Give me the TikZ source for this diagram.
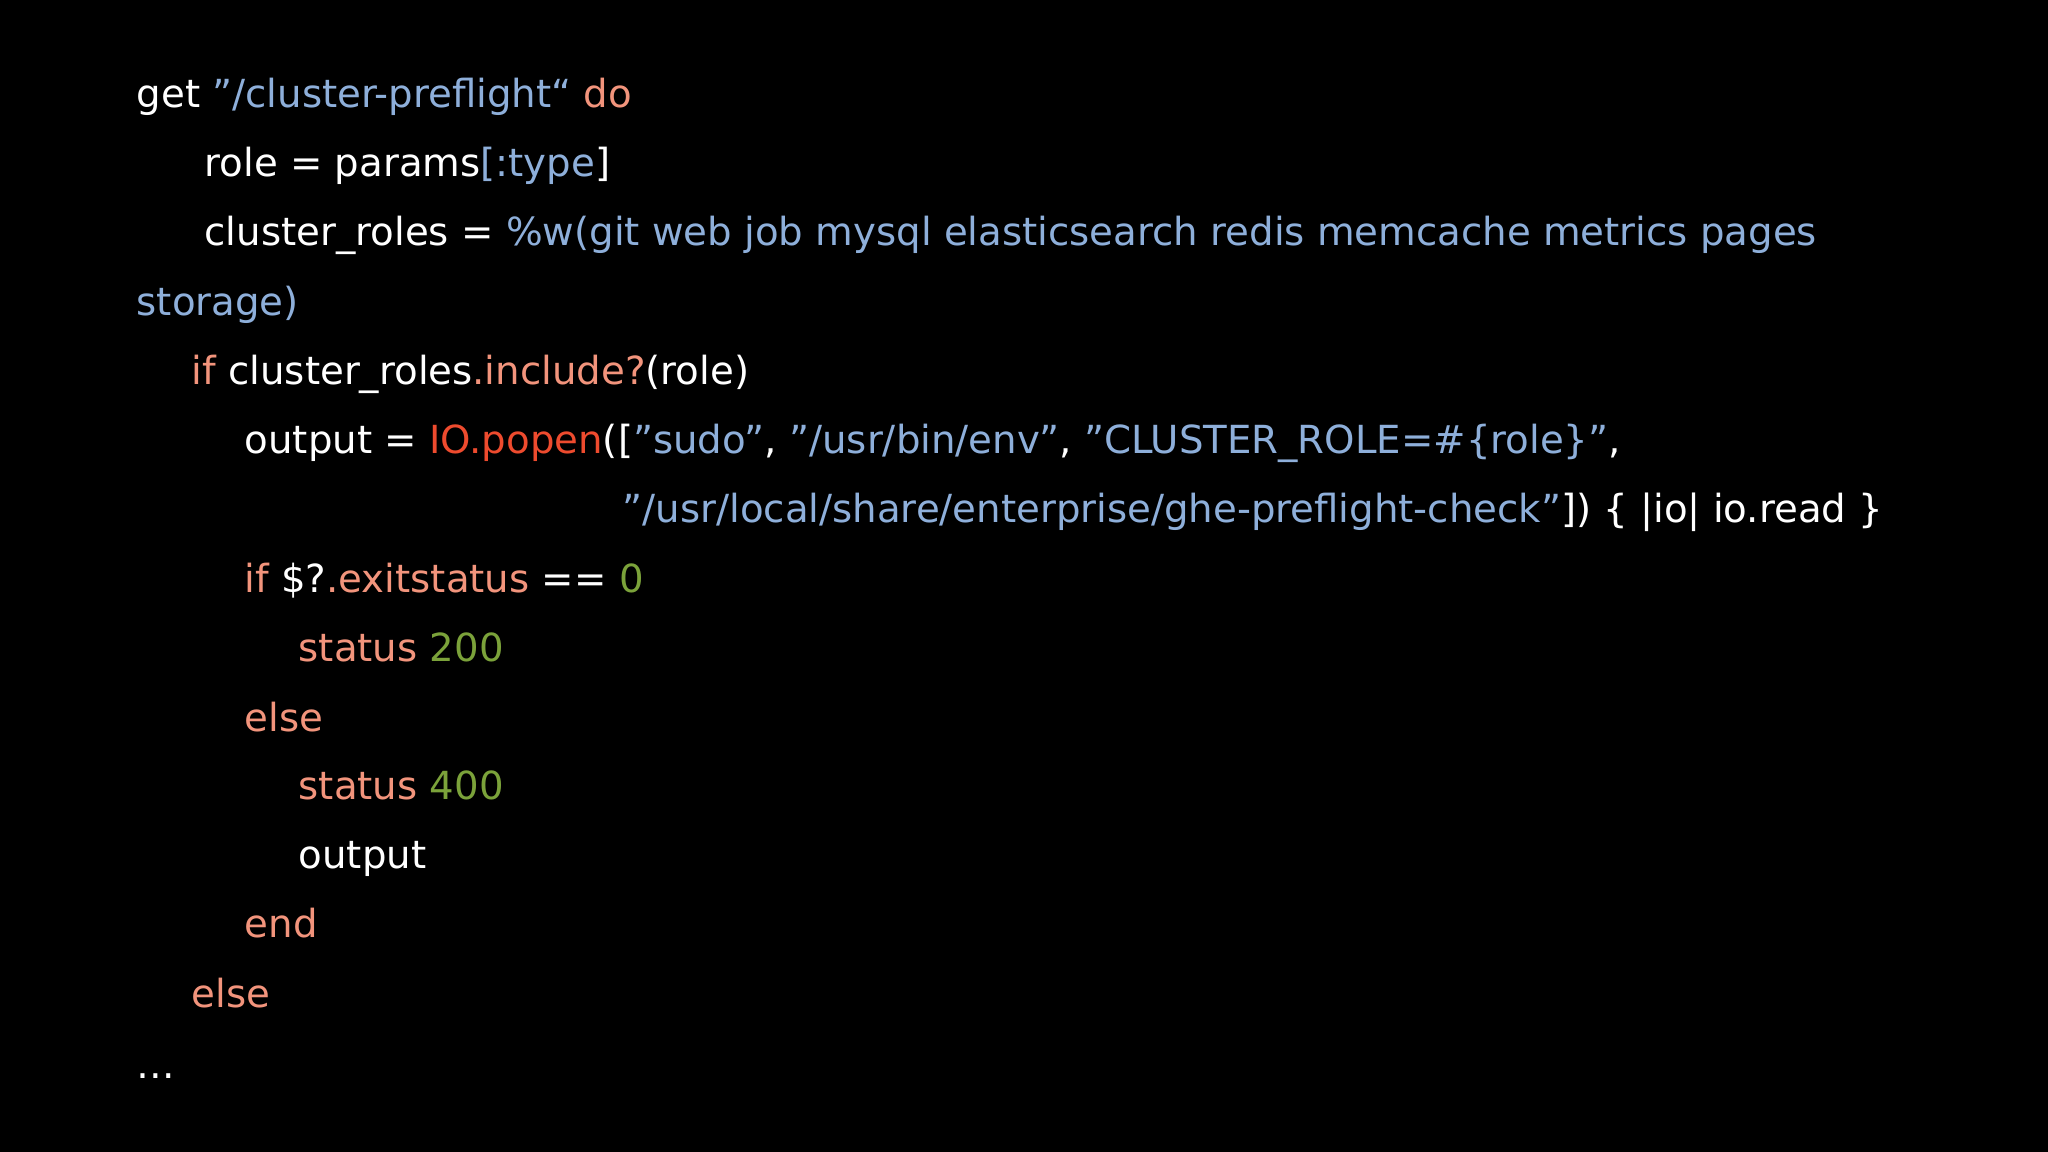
\documentclass[tikz,border=0pt]{standalone}
\usepackage{fontspec}
\setmainfont{DejaVu Sans}
\definecolor{cw}{HTML}{FFFFFF}
\definecolor{cb}{HTML}{8EAFDA}
\definecolor{cs}{HTML}{F2947C}
\definecolor{cr}{HTML}{EE4B2E}
\definecolor{cg}{HTML}{7BA23A}
\newcommand{\kB}[1]{\textcolor{cb}{#1}}
\newcommand{\kS}[1]{\textcolor{cs}{#1}}
\newcommand{\kR}[1]{\textcolor{cr}{#1}}
\newcommand{\kG}[1]{\textcolor{cg}{#1}}
\tikzset{codeline/.style={anchor=base west,inner sep=0pt,text=cw,font=\fontsize{11pt}{13pt}\selectfont}}
\begin{document}
\begin{tikzpicture}[x=0.01cm,y=0.01cm]
\fill[black] (0,0) rectangle (2048,-1152);
\node[codeline] (l1) at (136,-108) {get \kB{"/cluster-preflight“} \kS{do}};
\node[codeline] (l2) at (204,-177) {role = params\kB{[:type}]};
\node[codeline] (l3) at (204,-246) {cluster\_roles = \kB{\%w(git web job mysql elasticsearch redis memcache metrics pages}};
\node[codeline] (l4) at (136,-316) {\kB{storage)}};
\node[codeline] (l5) at (191,-385) {\kS{if} cluster\_roles\kS{.include?}(role)};
\node[codeline] (l6) at (244,-454) {output = \kR{IO.popen}([\kB{"sudo"}, \kB{"/usr/bin/env"}, \kB{"CLUSTER\_ROLE=\#\{role\}"},};
\node[codeline] (l7) at (622,-523) {\kB{"/usr/local/share/enterprise/ghe-preflight-check"}]) \{ |io| io.read \}};
\node[codeline] (l8) at (244,-593) {\kS{if} \$?\kS{.exitstatus} == \kG{0}};
\node[codeline] (l9) at (298,-662) {\kS{status} \kG{200}};
\node[codeline] (l10) at (244,-731) {\kS{else}};
\node[codeline] (l11) at (298,-799) {\kS{status} \kG{400}};
\node[codeline] (l12) at (298,-868) {output};
\node[codeline] (l13) at (244,-937) {\kS{end}};
\node[codeline] (l14) at (191,-1007) {\kS{else}};
\node[codeline] (l15) at (136,-1078) {…};
\end{tikzpicture}
\end{document}
